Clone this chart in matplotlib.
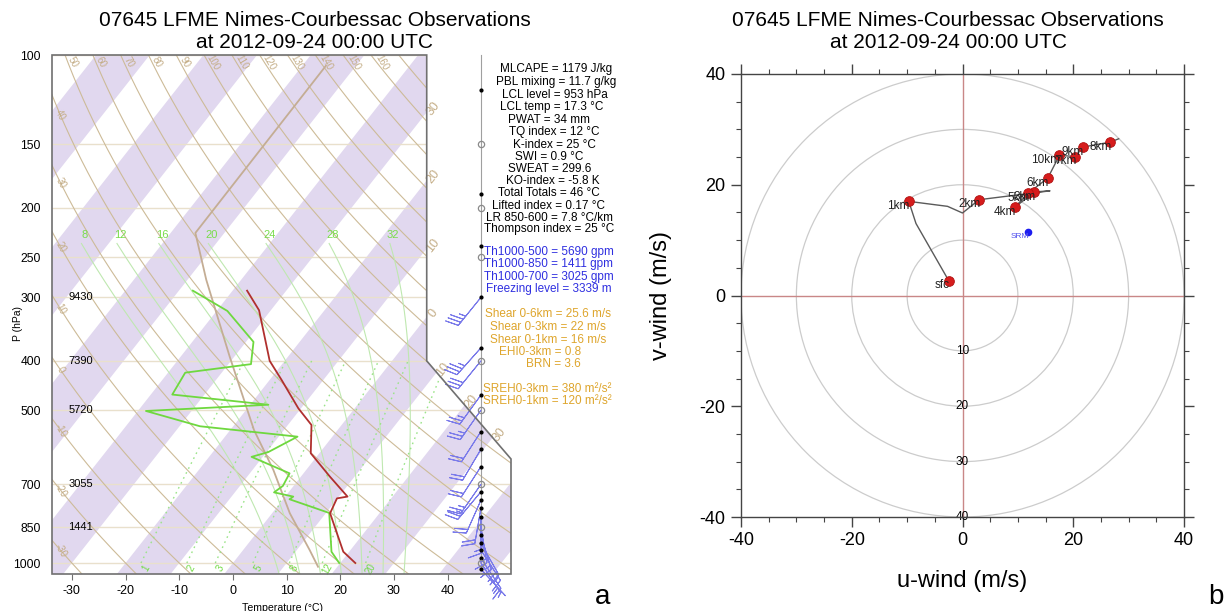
import numpy as np
import matplotlib
matplotlib.use("Agg")
import matplotlib.pyplot as plt
from matplotlib.patches import Polygon, Circle
from matplotlib.ticker import NullLocator, MultipleLocator

plt.rcParams['font.family'] = ['Liberation Sans', 'DejaVu Sans']
plt.rcParams['axes.unicode_minus'] = False

W, H = 1228, 611
SKEW = 74.5                      # degC shift per decade of pressure
X_LEFT, X_RIGHT = -33.7, 51.8
P_BOT, P_TOP = 1051.0, 100.0
X_NOTCH, P_NOTCH, P_CORNER = 36.1, 400.0, 624.0
X_STAFF = 46.2

TITLE = "07645 LFME Nimes-Courbessac Observations\nat 2012-09-24 00:00 UTC"

# sounding (hPa, degC)
pres_t = [291, 318, 400, 436, 496, 535, 608, 676, 740, 746, 798, 950, 1000]
temp = [-37.3, -32.2, -22.8, -17.8, -10.5, -5.6, -1.6, 5.4, 11.6, 9.9, 10.8, 18.9, 22.8]
pres_td = [291, 319, 367, 406, 422, 466, 488, 502, 538, 564, 605, 618, 666, 705,
           726, 740, 749, 797, 950, 1000]
dewp = [-47.4, -38.0, -28.6, -25.8, -36.8, -36.0, -16.6, -38.5, -26.2, -6.5, -9.7,
        -12.1, -2.6, -2.0, -2.7, 1.5, 1.2, 10.6, 16.7, 19.8]
pres_parcel = [105, 224, 277, 393, 547, 656, 798, 943, 1017]
t_parcel = [-55.6, -55.4, -46.5, -30.8, -15.6, -6.1, 3.3, 12.4, 16.4]

plev = [100, 150, 200, 250, 300, 400, 500, 700, 850, 1000]
hgt_lev = [300, 400, 500, 700, 850]
hgt_val = ["9430", "7390", "5720", "3055", "1441"]

# winds along the staff
wind_p = [300, 377, 400, 467, 500, 551, 597, 646, 700, 724, 752, 780, 813, 850,
          881, 915, 943, 979, 1000, 1029]
wind_u = [21.7, 24.0, 20.4, 15.4, 14.0, 11.9, 9.4, 11.0, 13.0, 15.8, 8.0, 3.0, 0.0,
          -2.7, -5.0, -9.7, -8.4, -6.0, -4.0, -2.5]
wind_v = [26.8, 27.0, 25.1, 21.2, 20.0, 18.5, 15.9, 17.0, 18.7, 18.9, 18.0, 17.3, 15.0,
          16.1, 16.5, 17.0, 13.0, 9.0, 6.0, 2.7]
dot_p_upper = [117, 188, 238]
open_p = [150, 200, 250, 400, 500, 700, 850, 1000]

# background line sets
theta_lines = list(range(-40, 210, 10))
theta_top_labels = list(range(50, 170, 10))
theta_left_labels = list(range(-30, 50, 10))
thetaw_lines = [8, 12, 16, 20, 24, 28, 32]
mix_lines = [1, 2, 3, 5, 8, 12, 20]
iso_labels = [-30, -20, -10, 0, 10, 20, 30]

# hodograph (m/s)
hodo_u = [-2.5, -8.4, -9.7, -2.7, 0.0, 3.0, 15.8, 13.0, 9.4, 11.9, 15.4, 17.5, 20.4, 21.7, 26.7, 28.2]
hodo_v = [2.7, 13.0, 17.0, 16.1, 14.9, 17.3, 18.9, 18.7, 15.9, 18.5, 21.2, 25.3, 25.1, 26.8, 27.7, 28.3]
km_names = ['sfc', '1km', '2km', '3km', '4km', '5km', '6km', '7km', '8km', '9km', '10km']
km_u = [-2.5, -9.7, 3.0, 13.0, 9.4, 11.9, 15.4, 20.4, 26.7, 21.7, 17.5]
km_v = [2.7, 17.0, 17.3, 18.7, 15.9, 18.5, 21.2, 25.1, 27.7, 26.8, 25.3]
srm_u, srm_v = 11.9, 11.4
rings = [10, 20, 30, 40]

stats_black = ["MLCAPE = 1179 J/kg", "PBL mixing = 11.7 g/kg", "LCL level = 953 hPa",
               "LCL temp = 17.3 °C", "PWAT = 34 mm", "TQ index = 12 °C", "K-index = 25 °C",
               "SWI = 0.9 °C", "SWEAT = 299.6", "KO-index = -5.8 K", "Total Totals = 46 °C",
               "Lifted index = 0.17 °C", "LR 850-600 = 7.8 °C/km", "Thompson index = 25 °C"]
stats_black_y = [69, 82, 95, 107, 120, 132, 145, 157, 169, 181, 193, 206, 218, 229]
stats_black_x = [556, 556, 555, 552, 549, 554, 554, 549, 550, 553, 549, 548, 550, 549]
stats_blue = ["Th1000-500 = 5690 gpm", "Th1000-850 = 1411 gpm", "Th1000-700 = 3025 gpm",
              "Freezing level = 3339 m"]
stats_blue_y = [252, 264, 277, 289]
stats_orange = ["Shear 0-6km = 25.6 m/s", "Shear 0-3km = 22 m/s", "Shear 0-1km = 16 m/s",
                "EHI0-3km = 0.8", "BRN = 3.6", "SREH0-3km = 380 m²/s²", "SREH0-1km = 120 m²/s²"]
stats_orange_y = [314, 327, 340, 352, 364, 389, 401]
stats_orange_x = [548, 548, 548, 540, 553, 547, 547]


def skx(t, p):
    return np.asarray(t, float) + SKEW * np.log10(1000.0 / np.asarray(p, float))


def pseudo_adiabat(t0, p_top=235.0, p_bot=P_BOT):
    rd, cp, lv, eps = 287.04, 1005.7, 2.501e6, 0.622

    def rate(t, p):
        es = 6.112 * np.exp(17.67 * (t - 273.15) / (t - 29.65))
        rs = eps * es / (p - es)
        return (rd * t + lv * rs) / (cp + lv * lv * rs * eps / (rd * t * t)) / p

    out_p, out_t = [], []
    for step, stop in ((-1.0, p_top), (1.0, p_bot)):
        p, t = 1000.0, t0 + 273.15
        ps, ts = [p], [t]
        while (p > stop) if step < 0 else (p < stop):
            t += rate(t, p) * step
            p += step
            ps.append(p)
            ts.append(t)
        if step < 0:
            out_p, out_t = ps[::-1], ts[::-1]
        else:
            out_p += ps[1:]
            out_t += ts[1:]
    return np.array(out_p), np.array(out_t) - 273.15


def ftxt(x, y, s, **kw):
    fig.text(x / W, 1 - y / H, s, **kw)


fig = plt.figure(figsize=(W / 100, H / 100), dpi=100)

# ---------------- skew-T ----------------
ax = fig.add_axes([52 / W, 1 - 574 / H, 459 / W, 519 / H])
ax.set_yscale('log')
ax.set_xlim(X_LEFT, X_RIGHT)
ax.set_ylim(P_BOT, P_TOP)

frame_xy = [(X_LEFT, P_BOT), (X_LEFT, P_TOP), (X_NOTCH, P_TOP), (X_NOTCH, P_NOTCH),
            (X_RIGHT, P_CORNER), (X_RIGHT, P_BOT)]
clip = Polygon(frame_xy, closed=True, transform=ax.transData, fc='none', ec='none')
ax.add_patch(clip)

for t0 in range(-140, 60, 20):
    verts = [(skx(t0, P_BOT), P_BOT), (skx(t0 + 10, P_BOT), P_BOT),
             (skx(t0 + 10, P_TOP), P_TOP), (skx(t0, P_TOP), P_TOP)]
    band = Polygon(verts, fc='#e1d8ef', ec='none', zorder=0.5)
    ax.add_patch(band)
    band.set_clip_path(clip)

for p in plev:
    ln = ax.axhline(p, color='#e9e0cc', lw=1.0, zorder=1)
    ln.set_clip_path(clip)

pp = np.geomspace(P_BOT, P_TOP, 300)
brown = '#c4ad86'
for th in theta_lines:
    t = (th + 273.15) * (pp / 1000.0) ** 0.2857 - 273.15
    xs = skx(t, pp)
    ln, = ax.plot(xs, pp, color='#cdbb98', lw=0.8, zorder=1.2)
    ln.set_clip_path(clip)
    if th in theta_top_labels:
        pl = 103.5
        tl = (th + 273.15) * (pl / 1000.0) ** 0.2857 - 273.15
        ax.text(skx(tl, pl) + 0.9, pl, str(th), color=brown, fontsize=7,
                rotation=-60, ha='center', va='center', zorder=3)
    if th in theta_left_labels:
        xl = X_LEFT + 1.6
        pl = np.interp(xl, xs[::-1], pp[::-1])
        ax.text(xl, pl, str(th), color=brown, fontsize=7, rotation=-60,
                ha='center', va='center', zorder=3)

for thw in thetaw_lines:
    pm, tm = pseudo_adiabat(thw)
    ln, = ax.plot(skx(tm, pm), pm, color='#bfe8b0', lw=0.8, zorder=1.3)
    ln.set_clip_path(clip)
    ax.text(skx(tm[0], pm[0]) + 0.6, 226, str(thw), color='#79dc4c', fontsize=8,
            ha='center', va='center', zorder=3)

pmx = np.geomspace(1000, 400, 80)
for w in mix_lines:
    es = w * pmx / (622.0 + w)
    lg = np.log(es / 6.112)
    t = 243.5 * lg / (17.67 - lg)
    ln, = ax.plot(skx(t, pmx), pmx, color='#9be489', lw=1.0, ls=(0, (1.2, 2.8)), zorder=1.4)
    ln.set_clip_path(clip)
    es0 = w * 1025.0 / (622.0 + w)
    lg0 = np.log(es0 / 6.112)
    ax.text(skx(243.5 * lg0 / (17.67 - lg0), 1025.0) + 1.4, 1025, str(w), color='#70da44',
            fontsize=7, rotation=60, ha='center', va='center', zorder=3)

# isotherm labels where the isotherms leave the frame
pg = np.geomspace(P_TOP, P_BOT, 2000)
xb = np.where(pg <= P_NOTCH, X_NOTCH,
              X_NOTCH + (X_RIGHT - X_NOTCH) * np.log(np.clip(pg, P_NOTCH, P_CORNER) / P_NOTCH)
              / np.log(P_CORNER / P_NOTCH))
for ti in iso_labels:
    diff = skx(ti, pg) - xb
    k = np.argmin(np.abs(diff))
    ax.text(xb[k] + 1.2, pg[k] * 0.985, str(abs(ti)), color=brown, fontsize=9,
            rotation=52, ha='center', va='center', zorder=3, clip_on=False)

# sounding curves
ax.plot(skx(t_parcel, pres_parcel), pres_parcel, color='#c4ad94', lw=1.3, zorder=4)
ax.plot(skx(dewp, pres_td), pres_td, color='#6fd83f', lw=1.3, zorder=4.2)
ax.plot(skx(temp, pres_t), pres_t, color='#b0302e', lw=1.3, zorder=4.4)

for p, s in zip(hgt_lev, hgt_val):
    ax.text(X_LEFT + 3.0, p, s, fontsize=8, ha='left', va='center', zorder=5)

frame = Polygon(frame_xy, closed=True, fill=False, ec='#707070', lw=1.2, zorder=6,
                transform=ax.transData, clip_on=False)
ax.add_patch(frame)

# wind staff
ax.plot([X_STAFF, X_STAFF], [P_TOP, 1029], color='#a0a0a0', lw=0.8, zorder=5, clip_on=False)
ax.barbs(np.full(len(wind_p), X_STAFF), wind_p, wind_u, wind_v, length=7.2,
         sizes=dict(spacing=0.11, height=0.35), color='#7a7aea', lw=0.7,
         zorder=5.5, clip_on=False)
filled_p = dot_p_upper + [p for p in wind_p if p not in open_p]
ax.plot(np.full(len(filled_p), X_STAFF), filled_p, 'o', ms=2.0, color='k',
        zorder=6, clip_on=False)
ax.plot(np.full(len(open_p), X_STAFF), open_p, 'o', ms=4.5, mfc='none', mec='#8a8a8a',
        mew=0.9, zorder=6, clip_on=False)

for s in ax.spines.values():
    s.set_visible(False)
xt = list(range(-30, 50, 10))
ax.set_xticks(xt)
ax.set_xticklabels([str(v) for v in xt])
ax.tick_params(axis='x', direction='out', length=4, width=0.8, color='#707070',
               labelsize=9, pad=4)
ax.set_yticks(plev)
ax.set_yticklabels([str(p) for p in plev])
ax.yaxis.set_minor_locator(NullLocator())
ax.tick_params(axis='y', length=0, labelsize=8.7, pad=8)

ftxt(315, 31, TITLE, fontsize=15, ha='center', va='center', linespacing=1.2)
ftxt(18, 323, "P (hPa)", fontsize=7.5, rotation=90, ha='center', va='center')
ftxt(282, 603, "Temperature (°C)", fontsize=7.6, ha='center', va='top')

for s, x, y in zip(stats_black, stats_black_x, stats_black_y):
    ftxt(x, y, s, fontsize=8.5, ha='center', va='center')
for s, y in zip(stats_blue, stats_blue_y):
    ftxt(549, y, s, fontsize=8.5, ha='center', va='center', color='#2f2fe0')
for s, x, y in zip(stats_orange, stats_orange_x, stats_orange_y):
    ftxt(x, y, s, fontsize=8.5, ha='center', va='center', color='#dea52c')

ftxt(603, 597, "a", fontsize=20, ha='center', va='center')

# ---------------- hodograph ----------------
hx = fig.add_axes([741 / W, 1 - 517 / H, 443 / W, 443 / H])
hx.set_xlim(-40, 40)
hx.set_ylim(-40, 40)
for r in rings:
    hx.add_patch(Circle((0, 0), r, fill=False, ec='#cccccc', lw=0.9, zorder=1))
hx.axhline(0, color='#c98787', lw=1.0, zorder=1.5)
hx.axvline(0, color='#c98787', lw=1.0, zorder=1.5)
for r in rings:
    hx.text(0, -r, str(r), fontsize=8.5, ha='center', va='center', zorder=2)

hx.plot(hodo_u, hodo_v, color='#5a5a5a', lw=1.0, zorder=3)
hx.plot(km_u, km_v, 'o', ms=7, color='#d61c1c', mec='#b01010', mew=0.6, zorder=4)
for name, u, v in zip(km_names, km_u, km_v):
    hx.text(u + 0.2, v - 0.85, name, fontsize=8.5, ha='right', va='center',
            color='#222222', zorder=5)
hx.plot(srm_u, srm_v, 'o', ms=4.5, color='#1c1cf0', zorder=4)
hx.text(srm_u + 0.2, srm_v - 0.8, "SRM", fontsize=6, color='#5050ee', ha='right',
        va='center', zorder=5)

for s in hx.spines.values():
    s.set_color('#444444')
    s.set_linewidth(1.0)
ht = [-40, -20, 0, 20, 40]
hx.set_xticks(ht)
hx.set_yticks(ht)
hx.set_xticklabels([str(v) for v in ht])
hx.set_yticklabels([str(v) for v in ht])
hx.xaxis.set_minor_locator(MultipleLocator(5))
hx.yaxis.set_minor_locator(MultipleLocator(5))
hx.tick_params(which='both', direction='out', top=True, right=True, color='#444444',
               labelsize=13)
hx.tick_params(which='major', length=7, width=1.0, pad=4)
hx.tick_params(which='minor', length=3.5, width=0.8)
hx.set_xlabel("u-wind (m/s)", fontsize=17, labelpad=15)
hx.set_ylabel("v-wind (m/s)", fontsize=17, labelpad=20)

ftxt(948, 31, TITLE, fontsize=15, ha='center', va='center', linespacing=1.2)
ftxt(1216, 597, "b", fontsize=20, ha='center', va='center')

fig.savefig("out.png", dpi=100)
